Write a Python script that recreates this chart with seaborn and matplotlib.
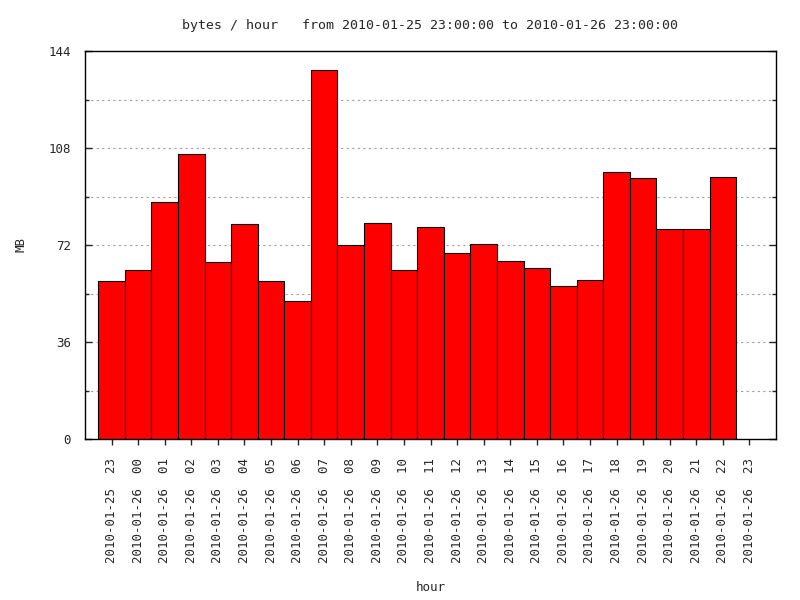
import pandas as pd
import seaborn as sns
import matplotlib.pyplot as plt
from matplotlib.ticker import MultipleLocator

# hourly labels (last hour has no traffic bar)
hours = ['2010-01-25  23'] + ['2010-01-26  %02d' % h for h in range(24)]
mb = [58.5, 62.9, 87.9, 105.8, 65.6, 79.7, 58.5, 51.4, 137.1, 71.9,
      80.1, 62.9, 78.6, 68.9, 72.3, 65.9, 63.3, 56.6, 58.9, 99.1,
      96.9, 77.9, 77.9, 97.2]

df = pd.DataFrame({'hour': hours[:len(mb)], 'MB': mb})

sns.set_style('white')
plt.rcParams['font.family'] = ['DejaVu Sans Mono', 'DejaVu Sans']
plt.rcParams['font.size'] = 8.5

fig = plt.figure(figsize=(8, 6), dpi=100)
ax = fig.add_axes([85 / 800, 1 - 439 / 600, (776 - 85) / 800, (439 - 51) / 600])

sns.barplot(data=df, x='hour', y='MB', order=hours, color='#ff0000',
            saturation=1, width=1.0, edgecolor='black', linewidth=0.8, ax=ax)

ax.set_xlim(-1, len(hours))
ax.set_ylim(0, 144)
ax.yaxis.set_major_locator(MultipleLocator(36))
ax.yaxis.set_minor_locator(MultipleLocator(18))
ax.grid(True, which='both', axis='y', color='#a0a0a0', linestyle=(0, (2, 3)), linewidth=0.8)
ax.set_axisbelow(True)

for s in ax.spines.values():
    s.set_linewidth(1.0)
    s.set_color('black')

ax.tick_params(axis='y', which='major', direction='in', length=5, width=1,
               left=True, right=True, pad=10, labelsize=9)
ax.tick_params(axis='y', which='minor', direction='in', length=2.7, width=1,
               left=True, right=True)
ax.tick_params(axis='x', which='major', direction='out', length=4.5, width=1,
               bottom=True, top=False, pad=9, labelsize=9)
plt.setp(ax.get_xticklabels(), rotation=90)

ax.set_xlabel('hour', fontsize=9, labelpad=13)
ax.set_ylabel('MB', fontsize=9, labelpad=15)
ax.set_title('bytes / hour   from 2010-01-25 23:00:00 to 2010-01-26 23:00:00',
             fontsize=9.5, pad=16)

fig.savefig('out.png', dpi=100)
